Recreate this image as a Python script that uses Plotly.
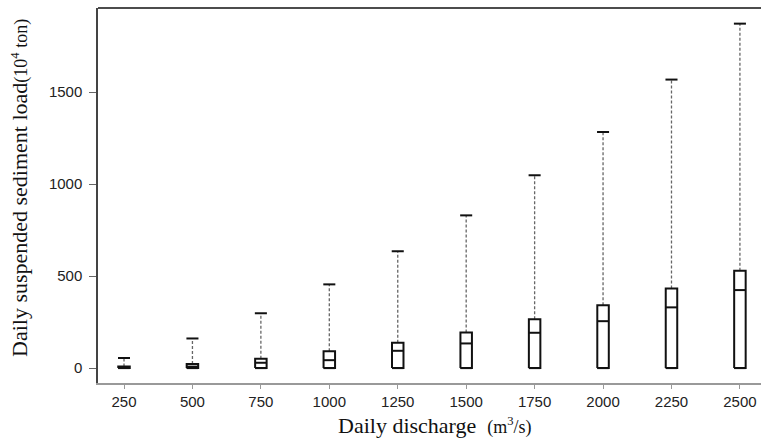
import plotly.graph_objects as go

discharge = [250, 500, 750, 1000, 1250, 1500, 1750, 2000, 2250, 2500]
lower = [0, 0, 0, 0, 0, 0, 0, 0, 0, 0]
q1 = [0, 0, 0, 0, 0, 0, 0, 0, 0, 0]
median = [2, 8, 29, 43, 94, 134, 192, 255, 330, 424]
q3 = [8, 22, 51, 92, 138, 194, 265, 342, 433, 529]
upper = [55, 161, 298, 455, 635, 830, 1048, 1283, 1568, 1872]
y_ticks = [0, 500, 1000, 1500]

half = 21  # half box width in discharge units
cap = 22   # half cap width

bx, by, mx, my, wx, wy, cx, cy = [], [], [], [], [], [], [], []
for x, a, m, b, lo, hi in zip(discharge, q1, median, q3, lower, upper):
    bx += [x - half, x + half, x + half, x - half, x - half, None]
    by += [a, a, b, b, a, None]
    mx += [x - half, x + half, None]
    my += [m, m, None]
    wx += [x, x, None]
    wy += [b, hi, None]
    cx += [x - cap, x + cap, None, x - half, x + half, None]
    cy += [hi, hi, None, lo, lo, None]

fig = go.Figure()
fig.add_trace(go.Scatter(x=wx, y=wy, mode="lines", line=dict(color="#666666", width=1.3, dash="3px,2px"),
                         hoverinfo="skip", showlegend=False))
fig.add_trace(go.Scatter(x=bx, y=by, mode="lines", line=dict(color="#111111", width=2),
                         showlegend=False))
fig.add_trace(go.Scatter(x=mx, y=my, mode="lines", line=dict(color="#111111", width=2),
                         showlegend=False))
fig.add_trace(go.Scatter(x=cx, y=cy, mode="lines", line=dict(color="#111111", width=2),
                         showlegend=False))

fig.update_layout(
    width=761, height=443,
    margin=dict(l=98, r=0, t=8, b=60),
    paper_bgcolor="white", plot_bgcolor="white",
    font=dict(family="Liberation Sans, Arial, sans-serif", size=15, color="#222222"),
    xaxis=dict(range=[155, 2577], tickvals=discharge, ticktext=[str(d) for d in discharge],
               showgrid=False, zeroline=False, showline=True, linecolor="#999999", linewidth=1.5,
               ticks="outside", ticklen=4, tickcolor="#999999", tickfont=dict(size=15)),
    yaxis=dict(range=[-81, 1957], tickvals=y_ticks, ticktext=[str(t) for t in y_ticks],
               showgrid=False, zeroline=False, showline=True, linecolor="#444444", linewidth=1.5,
               ticks="outside", ticklen=7, tickcolor="#666666", tickfont=dict(size=15),
               ticklabelstandoff=4),
    shapes=[dict(type="line", xref="paper", yref="paper", x0=0, x1=1, y0=1, y1=1,
                 line=dict(color="#111111", width=1.5))],
    annotations=[
        dict(text="Daily suspended sediment load<span style='font-size:18px'>(10<sup>4</sup> ton)</span>",
             xref="paper", yref="paper", x=(19 - 98) / 663, y=(383 - 188) / 375, xanchor="center",
             yanchor="middle", textangle=-90, showarrow=False,
             font=dict(family="Liberation Serif, Times New Roman, serif", size=22, color="#111111")),
        dict(text="Daily discharge  <span style='font-size:18px'>(m<sup>3</sup>/s)</span>",
             xref="paper", yref="paper", x=(435 - 98) / 663, y=0, yshift=-42, xanchor="center",
             yanchor="middle", showarrow=False,
             font=dict(family="Liberation Serif, Times New Roman, serif", size=22, color="#111111")),
    ],
)

fig.write_html("out.html")
